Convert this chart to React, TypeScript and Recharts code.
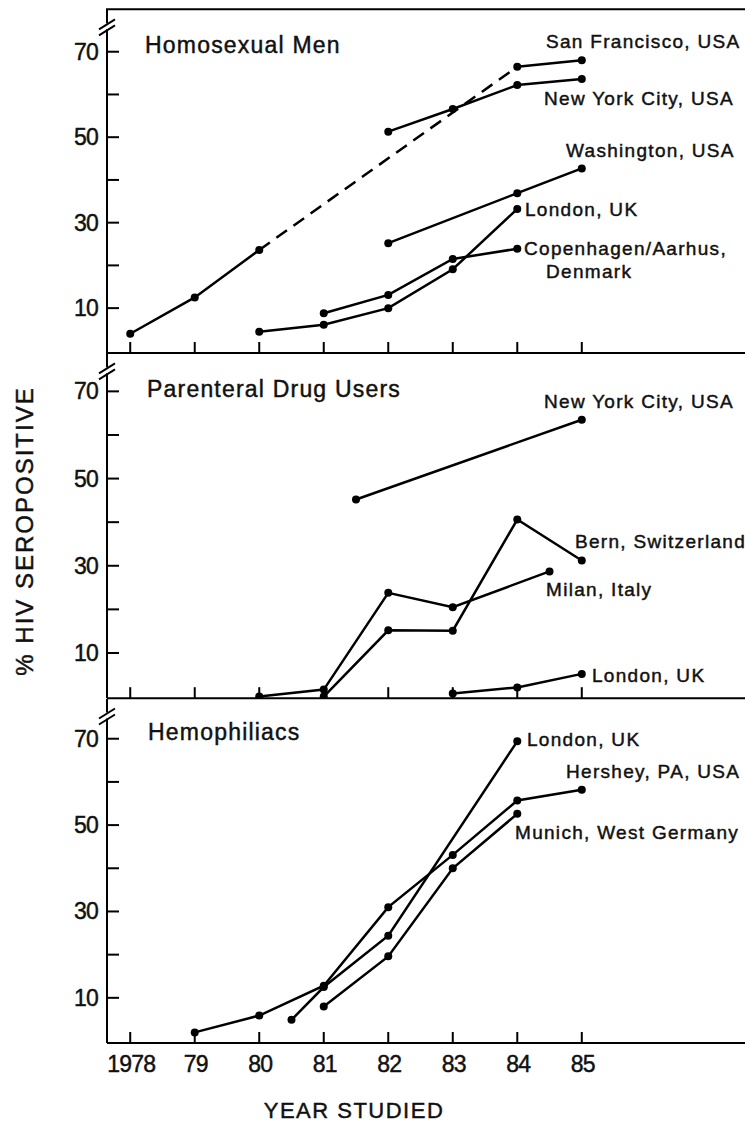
import { LineChart, Line, XAxis, YAxis } from 'recharts'

// x axis: years studied
const yearTicks = [1978, 1979, 1980, 1981, 1982, 1983, 1984, 1985]
const yearLabels = ['1978', '79', '80', '81', '82', '83', '84', '85']
const valueTicks = [10, 20, 30, 40, 50, 60, 70]
const labelledValues = [10, 30, 50, 70]

// Homosexual men
const sfYears = [1978, 1979, 1980, 1984, 1985]
const sfValues = [4, 12.5, 23.6, 66.5, 68]
const nycMenYears = [1982, 1983, 1984, 1985]
const nycMenValues = [51.3, 56.6, 62.2, 63.6]
const washYears = [1982, 1984, 1985]
const washValues = [25.2, 36.9, 42.7]
const londonMenYears = [1980, 1981, 1982, 1983, 1984]
const londonMenValues = [4.5, 6.1, 10, 19.1, 33.2]
const copenYears = [1981, 1982, 1983, 1984]
const copenValues = [8.8, 13.1, 21.5, 23.9]

// Parenteral drug users
const nycDrugYears = [1981.5, 1985]
const nycDrugValues = [45.2, 63.5]
const milanYears = [1980, 1981, 1982, 1983, 1984.5]
const milanValues = [0, 1.6, 23.8, 20.5, 28.7]
const bernYears = [1981, 1982, 1983, 1984, 1985]
const bernValues = [0, 15.2, 15.1, 40.6, 31.2]
const londonDrugYears = [1983, 1984, 1985]
const londonDrugValues = [0.7, 2.1, 5.2]

// Hemophiliacs
const londonHemYears = [1980.5, 1981, 1982, 1984]
const londonHemValues = [4.9, 12.5, 24.4, 69.4]
const hersheyYears = [1979, 1980, 1981, 1982, 1983, 1984, 1985]
const hersheyValues = [2, 5.9, 12.8, 31, 43.1, 55.7, 58.2]
const munichYears = [1981, 1982, 1983, 1984]
const munichValues = [8, 19.6, 40, 52.6]

const W = 745
const H = 1125
const AXIS_X = 107
const YEAR_MIN = 1977.64
const YEAR_MAX = 1987.53
const FONT = '"Liberation Sans", Arial, Helvetica, sans-serif'

type Pt = { x: number; y: number }
type Seg = { data: Pt[]; dashed?: boolean }

function toPoints(xs: number[], ys: number[]): Pt[] {
    return xs.map((x, i) => ({ x, y: ys[i] }))
}

const sfPoints = toPoints(sfYears, sfValues)

const menSeries: Seg[] = [
    { data: sfPoints.slice(0, 3) },
    { data: sfPoints.slice(2, 4), dashed: true },
    { data: sfPoints.slice(3) },
    { data: toPoints(nycMenYears, nycMenValues) },
    { data: toPoints(washYears, washValues) },
    { data: toPoints(londonMenYears, londonMenValues) },
    { data: toPoints(copenYears, copenValues) }
]

const drugSeries: Seg[] = [
    { data: toPoints(nycDrugYears, nycDrugValues) },
    { data: toPoints(milanYears, milanValues) },
    { data: toPoints(bernYears, bernValues) },
    { data: toPoints(londonDrugYears, londonDrugValues) }
]

const hemSeries: Seg[] = [
    { data: toPoints(londonHemYears, londonHemValues) },
    { data: toPoints(hersheyYears, hersheyValues) },
    { data: toPoints(munichYears, munichValues) }
]

// panel layout (pixels) and value ranges
const panels = [
    { key: 'men', top: 9.3, bottom: 353.3, yMin: -0.5, yMax: 80, series: menSeries, title: 'Homosexual Men', tx: 145, ty: 53 },
    { key: 'drug', top: 353.3, bottom: 698.5, yMin: -0.37, yMax: 78.8, series: drugSeries, title: 'Parenteral Drug Users', tx: 147, ty: 397 },
    { key: 'hem', top: 698.5, bottom: 1042.5, yMin: -0.46, yMax: 79.2, series: hemSeries, title: 'Hemophiliacs', tx: 148, ty: 740 }
]

const seriesLabels = [
    { text: 'San Francisco, USA', x: 546, y: 48 },
    { text: 'New York City, USA', x: 544, y: 105 },
    { text: 'Washington, USA', x: 566, y: 157 },
    { text: 'London, UK', x: 525, y: 216 },
    { text: 'Copenhagen/Aarhus,', x: 524, y: 255 },
    { text: 'Denmark', x: 546, y: 278 },
    { text: 'New York City, USA', x: 544, y: 408 },
    { text: 'Bern, Switzerland', x: 575, y: 548 },
    { text: 'Milan, Italy', x: 546, y: 596 },
    { text: 'London, UK', x: 592, y: 682 },
    { text: 'London, UK', x: 527, y: 746 },
    { text: 'Hershey, PA, USA', x: 566, y: 778 },
    { text: 'Munich, West Germany', x: 515, y: 839 }
]

// thicken glyphs a little, the print is heavy
const ink = { fill: '#111', stroke: '#111', strokeWidth: 0.45 }

function ValueTick(props: any) {
    const { x, y, payload } = props
    const show = labelledValues.includes(payload.value)
    return (
        <g>
            <line x1={x} x2={x + 12} y1={y} y2={y} stroke="#000" strokeWidth={2} />
            {show && (
                <text x={x - 9} y={y + 8} textAnchor="end" fontFamily={FONT} fontSize={23} letterSpacing={-0.8} {...ink}>
                    {payload.value}
                </text>
            )}
        </g>
    )
}

function YearTick(props: any) {
    const { x, y, payload, showLabel } = props
    const label = yearLabels[yearTicks.indexOf(payload.value)]
    return (
        <g>
            <line x1={x} x2={x} y1={y} y2={y - 11} stroke="#000" strokeWidth={2} />
            {showLabel && (
                <text x={x + 1} y={y + 29} textAnchor="middle" fontFamily={FONT} fontSize={23} letterSpacing={-0.8} {...ink}>
                    {label}
                </text>
            )}
        </g>
    )
}

function Panel({ p, last }: { p: (typeof panels)[number]; last: boolean }) {
    const padTop = 6
    const padBottom = last ? 40 : 6
    const axisH = 1
    return (
        <div style={{ position: 'absolute', left: 0, top: p.top - padTop }}>
            <LineChart
                width={W}
                height={p.bottom - p.top + padTop + padBottom + axisH}
                margin={{ top: padTop, right: 0, bottom: padBottom, left: 0 }}
            >
                <XAxis
                    type="number"
                    dataKey="x"
                    domain={[YEAR_MIN, YEAR_MAX]}
                    ticks={yearTicks}
                    interval={0}
                    allowDataOverflow
                    height={axisH}
                    tickSize={0}
                    tickMargin={0}
                    tickLine={false}
                    axisLine={{ stroke: '#000', strokeWidth: 2 }}
                    tick={(t: any) => <YearTick {...t} showLabel={last} />}
                />
                <YAxis
                    type="number"
                    domain={[p.yMin, p.yMax]}
                    ticks={valueTicks}
                    interval={0}
                    allowDataOverflow
                    width={AXIS_X}
                    tickSize={0}
                    tickMargin={0}
                    tickLine={false}
                    axisLine={{ stroke: '#000', strokeWidth: 2 }}
                    tick={<ValueTick />}
                />
                {p.series.map((s, i) => (
                    <Line
                        key={p.key + i}
                        data={s.data}
                        dataKey="y"
                        type="linear"
                        stroke="#000"
                        strokeWidth={2.5}
                        strokeDasharray={s.dashed ? '13 8' : undefined}
                        dot={s.dashed ? false : { r: 4, fill: '#000', stroke: '#000', strokeWidth: 0 }}
                        activeDot={false}
                        isAnimationActive={false}
                    />
                ))}
            </LineChart>
        </div>
    )
}

export default function App() {
    return (
        <div style={{ position: 'absolute', left: 0, top: 0, width: W, height: H, background: '#fff', overflow: 'hidden' }}>
            {panels.map((p, i) => (
                <Panel key={p.key} p={p} last={i === panels.length - 1} />
            ))}
            <svg width={W} height={H} style={{ position: 'absolute', left: 0, top: 0, pointerEvents: 'none' }}>
                {/* top frame */}
                <line x1={AXIS_X - 1} x2={W} y1={9.3} y2={9.3} stroke="#000" strokeWidth={2} />
                {/* axis breaks */}
                {panels.map((p) => (
                    <g key={'brk' + p.key}>
                        <rect x={AXIS_X - 2} y={p.top + 14} width={4} height={6} fill="#fff" />
                        <line x1={99} y1={p.top + 20} x2={115} y2={p.top + 10} stroke="#000" strokeWidth={2} />
                        <line x1={99} y1={p.top + 26} x2={115} y2={p.top + 16} stroke="#000" strokeWidth={2} />
                    </g>
                ))}
                {panels.map((p) => (
                    <text key={'t' + p.key} x={p.tx} y={p.ty} fontFamily={FONT} fontSize={23} letterSpacing={1.2} {...ink}>
                        {p.title}
                    </text>
                ))}
                {seriesLabels.map((l, i) => (
                    <text key={'l' + i} x={l.x} y={l.y} fontFamily={FONT} fontSize={19} letterSpacing={1.3} {...ink}>
                        {l.text}
                    </text>
                ))}
                <text
                    x={33}
                    y={531}
                    textAnchor="middle"
                    transform="rotate(-90 33 531)"
                    fontFamily={FONT}
                    fontSize={24}
                    letterSpacing={2}
                    {...ink}
                >
                    % HIV SEROPOSITIVE
                </text>
                <text x={354} y={1118} textAnchor="middle" fontFamily={FONT} fontSize={22} letterSpacing={1.5} {...ink}>
                    YEAR STUDIED
                </text>
            </svg>
        </div>
    )
}
